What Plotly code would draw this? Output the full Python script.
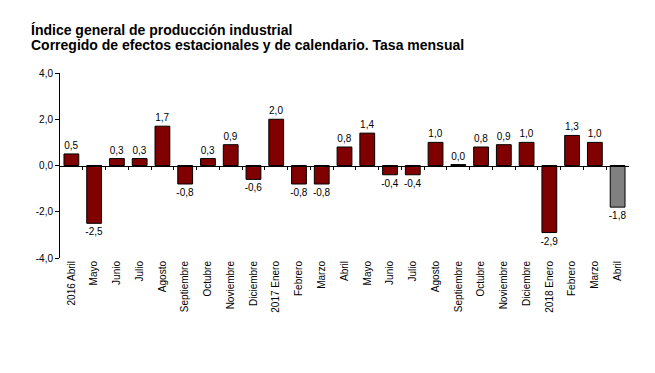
import plotly.graph_objects as go

categories = ["2016 Abril", "Mayo", "Junio", "Julio", "Agosto", "Septiembre", "Octubre",
              "Noviembre", "Diciembre", "2017 Enero", "Febrero", "Marzo", "Abril", "Mayo",
              "Junio", "Julio", "Agosto", "Septiembre", "Octubre", "Noviembre", "Diciembre",
              "2018 Enero", "Febrero", "Marzo", "Abril"]
values = [0.5, -2.5, 0.3, 0.3, 1.7, -0.8, 0.3, 0.9, -0.6, 2.0, -0.8, -0.8, 0.8, 1.4,
          -0.4, -0.4, 1.0, 0.04, 0.8, 0.9, 1.0, -2.9, 1.3, 1.0, -1.8]
y_ticks = [-4.0, -2.0, 0.0, 2.0, 4.0]

DARK_RED = "#800000"
GREY = "#808080"
FONT = "Liberation Sans, Arial, sans-serif"

n = len(categories)
xs = list(range(n))
colors = [DARK_RED] * (n - 1) + [GREY]
labels = [f"{v:.1f}".replace(".", ",") for v in values]

PLOT_H = 185.0
PLOT_W = 569.0

fig = go.Figure()
fig.add_trace(go.Bar(
    x=xs, y=values, width=0.65,
    marker=dict(color=colors, line=dict(color="black", width=1)),
    text=labels, textposition="outside", cliponaxis=False, constraintext="none",
    textfont=dict(family=FONT, size=10, color="black"),
    hoverinfo="skip", showlegend=False,
))
# invisible trace on secondary axis to draw zero-line ticks
fig.add_trace(go.Scatter(x=[-0.5, n - 0.5], y=[0, 0], xaxis="x2", mode="lines",
                         line=dict(color="rgba(0,0,0,0)"), hoverinfo="skip", showlegend=False))

fig.update_layout(
    width=647, height=365,
    margin=dict(l=52, r=26, t=65, b=115, autoexpand=False),
    paper_bgcolor="white", plot_bgcolor="white",
    font=dict(family=FONT, size=10, color="black"),
    xaxis=dict(
        range=[-0.5, n - 0.5], tickvals=xs, ticktext=categories, tickangle=-90,
        showgrid=False, zeroline=False, showline=False, ticks="",
        tickfont=dict(family=FONT, size=10, color="black"),
    ),
    xaxis2=dict(
        overlaying="x", anchor="free", position=0.5, range=[-0.5, n - 0.5],
        tickvals=[i + 0.5 for i in xs[:-1]], ticks="outside", ticklen=3, tickcolor="black",
        showticklabels=False, showgrid=False, zeroline=False,
        showline=True, linecolor="black", linewidth=1,
    ),
    yaxis=dict(
        range=[-4, 4], tickvals=y_ticks,
        ticktext=[f"{v:.1f}".replace(".", ",") for v in y_ticks],
        showgrid=False, zeroline=False, showline=True, linecolor="black", linewidth=1,
        ticks="outside", ticklen=4, tickcolor="black",
        tickfont=dict(family=FONT, size=10, color="black"),
    ),
    annotations=[
        dict(text="<b>Índice general de producción industrial</b>", xref="paper", yref="paper",
             x=-31 / PLOT_W, y=1 + 43 / PLOT_H, xanchor="left", yanchor="middle", showarrow=False,
             font=dict(family=FONT, size=14, color="black")),
        dict(text="<b>Corregido de efectos estacionales y de calendario. Tasa mensual</b>",
             xref="paper", yref="paper",
             x=-31 / PLOT_W, y=1 + 28 / PLOT_H, xanchor="left", yanchor="middle", showarrow=False,
             font=dict(family=FONT, size=14, color="black")),
    ],
)

fig.write_html("out.html")
